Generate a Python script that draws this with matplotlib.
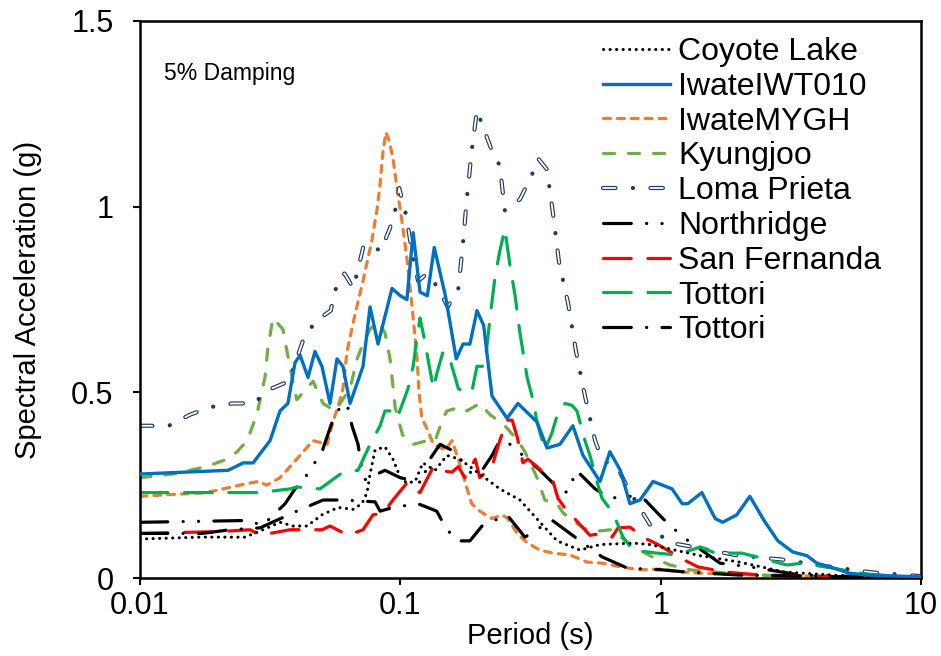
import matplotlib
matplotlib.use('Agg')
import matplotlib.pyplot as plt
from matplotlib.ticker import NullLocator

plt.rcParams['font.family'] = ['Liberation Sans', 'DejaVu Sans']
plt.rcParams['lines.scale_dashes'] = False

#---------------- spectra (period in s, Sa in g) ----------------
coyote_T = [0.01, 0.017, 0.0253, 0.0297, 0.0345, 0.0387, 0.0438, 0.050, 0.0576, 0.0658,
            0.0712, 0.0745, 0.0765, 0.080, 0.0873, 0.0937, 0.10, 0.106, 0.114, 0.122,
            0.136, 0.151, 0.169, 0.185, 0.202, 0.241, 0.288, 0.344, 0.40, 0.49,
            0.585, 0.783, 0.91, 1.42, 2.0, 3.0, 5.3, 10]
coyote_sa = [0.105, 0.11, 0.11, 0.13, 0.15, 0.14, 0.14, 0.17, 0.19, 0.185,
             0.20, 0.23, 0.28, 0.345, 0.353, 0.32, 0.27, 0.256, 0.26, 0.31,
             0.29, 0.33, 0.32, 0.30, 0.28, 0.24, 0.21, 0.15, 0.10, 0.075,
             0.09, 0.094, 0.09, 0.06, 0.043, 0.016, 0.005, 0.0]

iwt_T = [0.01, 0.0218, 0.0249, 0.0272, 0.0316, 0.0345, 0.037, 0.0394, 0.0412, 0.0442,
         0.047, 0.050, 0.0537, 0.0571, 0.0602, 0.0641, 0.0719, 0.0765, 0.0821, 0.0929,
         0.10, 0.106, 0.112, 0.119, 0.127, 0.135, 0.149, 0.164, 0.174, 0.185,
         0.197, 0.209, 0.225, 0.257, 0.283, 0.335, 0.366, 0.41, 0.46, 0.503,
         0.585, 0.638, 0.70, 0.762, 0.833, 0.935, 1.106, 1.21, 1.27, 1.44,
         1.62, 1.73, 1.96, 2.2, 2.52, 2.82, 3.22, 3.65, 3.98, 4.6,
         5.3, 6.2, 10]
iwt_sa = [0.28, 0.29, 0.31, 0.31, 0.37, 0.45, 0.47, 0.58, 0.60, 0.54,
          0.61, 0.57, 0.47, 0.59, 0.57, 0.47, 0.57, 0.73, 0.63, 0.78,
          0.76, 0.75, 0.93, 0.77, 0.76, 0.89, 0.76, 0.59, 0.63, 0.63,
          0.72, 0.68, 0.49, 0.43, 0.47, 0.42, 0.35, 0.36, 0.41, 0.33,
          0.26, 0.34, 0.29, 0.20, 0.21, 0.26, 0.24, 0.20, 0.20, 0.23,
          0.16, 0.15, 0.17, 0.22, 0.15, 0.10, 0.07, 0.06, 0.04, 0.027,
          0.013, 0.008, 0.003]

mygh_T = [0.01, 0.018, 0.0242, 0.0284, 0.0307, 0.0345, 0.040, 0.0462, 0.0523, 0.0551,
          0.0587, 0.0602, 0.0624, 0.067, 0.0719, 0.0778, 0.0813, 0.0836, 0.0858, 0.0881,
          0.0904, 0.0937, 0.0971, 0.1015, 0.106, 0.111, 0.116, 0.118, 0.121, 0.127,
          0.134, 0.149, 0.158, 0.167, 0.177, 0.188, 0.202, 0.225, 0.246, 0.259,
          0.281, 0.307, 0.344, 0.386, 0.449, 0.521, 0.595, 0.70, 0.833, 0.994,
          1.22, 1.42, 2.2, 5.3, 10]
mygh_sa = [0.22, 0.23, 0.25, 0.26, 0.25, 0.27, 0.32, 0.37, 0.36, 0.42,
           0.48, 0.51, 0.61, 0.71, 0.80, 0.91, 0.99, 1.06, 1.15, 1.20,
           1.18, 1.13, 1.05, 0.96, 0.86, 0.73, 0.59, 0.50, 0.43, 0.40,
           0.36, 0.345, 0.37, 0.32, 0.26, 0.20, 0.18, 0.16, 0.17, 0.16,
           0.12, 0.095, 0.075, 0.067, 0.062, 0.043, 0.04, 0.03, 0.022, 0.024,
           0.016, 0.013, 0.008, 0.003, 0.0]

kyung_T = [0.01, 0.0134, 0.018, 0.0216, 0.0236, 0.0258, 0.0281, 0.0302, 0.031, 0.0324,
           0.0354, 0.0367, 0.0384, 0.040, 0.0462, 0.0505, 0.0561, 0.0641, 0.0682, 0.0719,
           0.0765, 0.0821, 0.0873, 0.0913, 0.0955, 0.102, 0.112, 0.127, 0.136, 0.146,
           0.151, 0.169, 0.18, 0.202, 0.221, 0.252, 0.283, 0.301, 0.32, 0.335,
           0.359, 0.40, 0.422, 0.503, 0.545, 0.65, 0.762, 0.833, 0.968, 1.086,
           1.30, 2.2, 5.3, 10]
kyung_sa = [0.27, 0.28, 0.30, 0.32, 0.34, 0.37, 0.44, 0.54, 0.62, 0.70,
            0.67, 0.61, 0.54, 0.48, 0.53, 0.47, 0.45, 0.51, 0.59, 0.63,
            0.67, 0.69, 0.66, 0.59, 0.46, 0.385, 0.36, 0.37, 0.37, 0.43,
            0.45, 0.46, 0.45, 0.47, 0.44, 0.41, 0.37, 0.34, 0.30, 0.27,
            0.21, 0.20, 0.175, 0.135, 0.125, 0.13, 0.09, 0.075, 0.05, 0.035,
            0.022, 0.008, 0.003, 0.0]

loma_T = [0.01, 0.0129, 0.0156, 0.0186, 0.0226, 0.0272, 0.032, 0.0373, 0.040, 0.0423,
          0.047, 0.054, 0.057, 0.061, 0.066, 0.072, 0.076, 0.084, 0.091, 0.0955,
          0.099, 0.105, 0.112, 0.117, 0.127, 0.140, 0.152, 0.167, 0.174, 0.180,
          0.188, 0.197, 0.209, 0.225, 0.241, 0.252, 0.288, 0.318, 0.338, 0.366,
          0.386, 0.407, 0.441, 0.473, 0.512, 0.56, 0.595, 0.692, 0.75, 0.935,
          1.086, 1.30, 2.0, 2.9, 4.5, 6.5, 10]
loma_sa = [0.41, 0.41, 0.44, 0.46, 0.47, 0.47, 0.51, 0.53, 0.59, 0.64,
           0.69, 0.72, 0.79, 0.82, 0.78, 0.89, 0.90, 0.88, 0.94, 0.99,
           1.05, 0.98, 0.86, 0.80, 0.82, 0.78, 0.73, 0.78, 0.90, 1.02,
           1.15, 1.26, 1.21, 1.15, 1.11, 0.99, 1.02, 1.08, 1.13, 1.10,
           0.98, 0.85, 0.74, 0.61, 0.49, 0.37, 0.32, 0.29, 0.24, 0.13,
           0.095, 0.085, 0.06, 0.05, 0.03, 0.015, 0.005]

north_T = [0.01, 0.0265, 0.0294, 0.0361, 0.0394, 0.043, 0.050, 0.0547, 0.0587, 0.0624,
           0.0652, 0.0688, 0.0712, 0.0732, 0.0873, 0.10, 0.117, 0.122, 0.127, 0.142,
           0.162, 0.188, 0.206, 0.225, 0.241, 0.264, 0.296, 0.344, 0.393, 0.437,
           0.477, 0.49, 0.56, 0.638, 0.762, 0.871, 1.02, 1.22, 1.69, 2.2,
           3.43, 10]
north_sa = [0.15, 0.155, 0.14, 0.20, 0.24, 0.27, 0.34, 0.42, 0.46, 0.47,
            0.41, 0.36, 0.29, 0.265, 0.29, 0.27, 0.26, 0.255, 0.31, 0.36,
            0.34, 0.28, 0.29, 0.33, 0.37, 0.36, 0.33, 0.29, 0.25, 0.23,
            0.29, 0.28, 0.24, 0.215, 0.22, 0.21, 0.16, 0.11, 0.04, 0.03,
            0.008, 0.0]

sanf_T = [0.01, 0.0203, 0.0265, 0.0289, 0.0377, 0.0423, 0.050, 0.0537, 0.0629, 0.0719,
          0.0785, 0.0858, 0.0937, 0.106, 0.111, 0.119, 0.134, 0.142, 0.158, 0.167,
          0.177, 0.194, 0.202, 0.225, 0.241, 0.257, 0.269, 0.281, 0.296, 0.309,
          0.335, 0.386, 0.403, 0.437, 0.46, 0.535, 0.595, 0.65, 0.686, 0.762,
          0.855, 0.977, 1.22, 1.39, 1.77, 2.41, 5.3, 10]
sanf_sa = [0.12, 0.125, 0.13, 0.115, 0.13, 0.13, 0.13, 0.14, 0.115, 0.13,
           0.17, 0.175, 0.21, 0.256, 0.24, 0.23, 0.30, 0.29, 0.285, 0.30,
           0.27, 0.32, 0.27, 0.30, 0.37, 0.425, 0.425, 0.38, 0.31, 0.32,
           0.30, 0.26, 0.215, 0.18, 0.165, 0.115, 0.12, 0.11, 0.135, 0.137,
           0.11, 0.09, 0.05, 0.03, 0.016, 0.008, 0.003, 0.0]

tottg_T = [0.01, 0.02, 0.0289, 0.0377, 0.040, 0.0491, 0.0602, 0.0688, 0.0765, 0.0836,
           0.0873, 0.0913, 0.0971, 0.102, 0.107, 0.112, 0.116, 0.119, 0.124, 0.130,
           0.134, 0.138, 0.146, 0.155, 0.167, 0.177, 0.188, 0.197, 0.211, 0.221,
           0.231, 0.241, 0.252, 0.264, 0.276, 0.288, 0.307, 0.323, 0.335, 0.359,
           0.382, 0.403, 0.429, 0.456, 0.477, 0.512, 0.535, 0.569, 0.595, 0.656,
           0.717, 0.783, 0.968, 1.156, 1.42, 1.62, 2.05, 2.34, 3.05, 3.52,
           4.55, 6.1, 10]
tottg_sa = [0.23, 0.23, 0.23, 0.24, 0.245, 0.24, 0.285, 0.29, 0.36, 0.41,
            0.45, 0.45, 0.43, 0.47, 0.51, 0.57, 0.65, 0.70, 0.64, 0.56,
            0.51, 0.55, 0.61, 0.59, 0.51, 0.50, 0.50, 0.57, 0.57, 0.70,
            0.81, 0.88, 0.94, 0.84, 0.76, 0.66, 0.54, 0.48, 0.42, 0.345,
            0.39, 0.445, 0.47, 0.465, 0.45, 0.37, 0.33, 0.26, 0.215, 0.175,
            0.11, 0.075, 0.067, 0.062, 0.084, 0.067, 0.067, 0.057, 0.035, 0.04,
            0.027, 0.011, 0.0]

tottb_T = [0.01, 0.013, 0.0173, 0.0222, 0.0289, 0.040, 0.0505, 0.0613, 0.080, 0.0836,
           0.0937, 0.117, 0.138, 0.151, 0.167, 0.185, 0.206, 0.257, 0.301, 0.382,
           0.469, 0.595, 0.743, 1.01, 1.26, 2.0, 10]
tottb_sa = [0.12, 0.12, 0.12, 0.13, 0.135, 0.18, 0.21, 0.21, 0.205, 0.18,
            0.19, 0.20, 0.18, 0.13, 0.10, 0.10, 0.14, 0.17, 0.11, 0.156,
            0.11, 0.057, 0.027, 0.022, 0.016, 0.008, 0.0]

labels = ['Coyote Lake', 'IwateIWT010', 'IwateMYGH', 'Kyungjoo', 'Loma Prieta',
          'Northridge', 'San Fernanda', 'Tottori', 'Tottori']

#------------------------------- plotting -------------------------------
fig = plt.figure(figsize=(9.41, 6.56), dpi=100)
ax = fig.add_axes([140/941, 78/656, 781/941, 557/656])

kw = dict(lw=2.3, dash_capstyle='round', solid_capstyle='round', solid_joinstyle='round')

h_coy, = ax.plot(coyote_T, coyote_sa, color='black', dashes=(0.1, 4.6), lw=2.2,
                 dash_capstyle='round', zorder=3)
h_iwt, = ax.plot(iwt_T, iwt_sa, color='#0070C0', lw=2.4, solid_joinstyle='round', zorder=3)
h_myg, = ax.plot(mygh_T, mygh_sa, color='#ED7D31', dashes=(5, 5), **kw)
h_kyu, = ax.plot(kyung_T, kyung_sa, color='#70AD47', dashes=(8, 10), **kw)
# Loma Prieta: hollow dashes (navy outline, white core) with solid dots
h_lo1, = ax.plot(loma_T, loma_sa, color='#1F3864', dashes=(9, 12.5, 0.1, 12.5),
                 lw=3.0, dash_capstyle='round', zorder=2)
h_lo2, = ax.plot(loma_T, loma_sa, color='white', dashes=(9, 25.1),
                 lw=1.3, dash_capstyle='round', zorder=2)
h_nor, = ax.plot(north_T, north_sa, color='black', dashes=(20, 11, 0.1, 11, 0.1, 11), **kw)
h_sfe, = ax.plot(sanf_T, sanf_sa, color='#FF0000', dashes=(20, 12), **kw)
h_ttg, = ax.plot(tottg_T, tottg_sa, color='#00B050', dashes=(20, 12), **kw)
h_ttb, = ax.plot(tottb_T, tottb_sa, color='black', dashes=(20, 11, 0.1, 11), **kw)

ax.set_xscale('log')
ax.set_xlim(0.01, 10)
ax.set_ylim(0, 1.5)
ax.set_xticks([0.01, 0.1, 1, 10])
ax.set_xticklabels(['0.01', '0.1', '1', '10'])
ax.xaxis.set_minor_locator(NullLocator())
ax.set_yticks([0, 0.5, 1, 1.5])
ax.set_yticklabels(['0', '0.5', '1', '1.5'])
ax.tick_params(labelsize=22, length=5, width=1.5, direction='out')
ax.tick_params(axis='y', pad=14)
ax.tick_params(axis='x', pad=4)
for s in ax.spines.values():
    s.set_linewidth(1.8)

ax.set_xlabel('Period (s)', fontsize=21, va='center')
ax.xaxis.set_label_coords(0.5, -(636-578)/557)
ax.set_ylabel('Spectral Acceleration (g)', fontsize=21, va='center')
ax.yaxis.set_label_coords(-(140-28)/781, 0.5)

ax.text(0.031, 0.905, '5% Damping', transform=ax.transAxes, fontsize=16.5, va='center')

handles = [h_coy, h_iwt, h_myg, h_kyu, (h_lo1, h_lo2), h_nor, h_sfe, h_ttg, h_ttb]
ax.legend(handles, labels, loc='upper left', bbox_to_anchor=((603-140)/781, (578-37)/557),
          frameon=False, fontsize=23, handlelength=2.1, handletextpad=0.25,
          labelspacing=0.15, borderpad=0, borderaxespad=0)

fig.savefig('out.png', dpi=100)
